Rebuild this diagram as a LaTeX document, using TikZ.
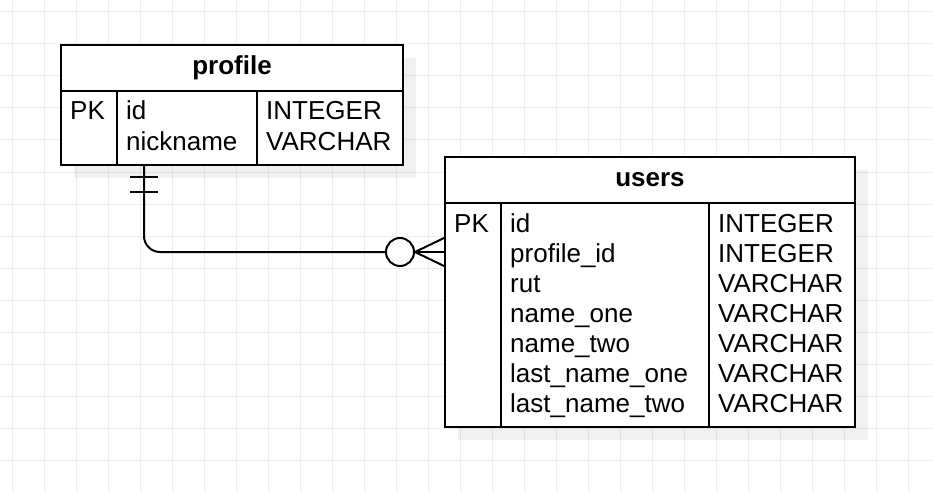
\documentclass[tikz,border=0pt]{standalone}
\usepackage{fontspec}
\setmainfont{Liberation Sans}
\usepackage{tikz}
\usetikzlibrary{positioning, calc}
\usepackage{xcolor}

\tikzset{
  cell/.style={draw=black, line width=2pt, fill=white, inner sep=0pt, anchor=north west},
  tshadow/.style={fill=black, opacity=0.055, draw=none},
  field/.style={font=\fontsize{26}{30}\selectfont, inner sep=0pt, anchor=base west},
  title/.style={font=\fontsize{26}{30}\selectfont\bfseries, inner sep=0pt},
  link/.style={line width=2pt, draw=black},
  gridline/.style={draw=black!7, line width=1pt}
}

\begin{document}
\begin{tikzpicture}[x=1pt, y=-1pt]

  \useasboundingbox (0,0) rectangle (934,492);
  \fill[white] (0,0) rectangle (934,492);

  % Grid
  \foreach \g in {12,44,...,908}{
    \draw[gridline] (\g,0) -- (\g,492);
  }
  \foreach \g in {12,44,...,460}{
    \draw[gridline] (0,\g) -- (934,\g);
  }

  % Shadows
  \fill[tshadow] (74,58) rectangle (416,178);
  \fill[tshadow] (458,170) rectangle (868,440);

  % Table profile
  \node[cell, minimum width=342, minimum height=46] (profile-head) at (60,44) {};
  \node[title] (profile-title) at (profile-head.center) {profile};
  \node[cell, minimum width=56, minimum height=74] (profile-pk) at (60,90) {};
  \node[cell, minimum width=140, minimum height=74] (profile-fields) at (116,90) {};
  \node[cell, minimum width=146, minimum height=74] (profile-types) at (256,90) {};

  \node[field] (profile-key) at (70,120) {PK};
  \foreach \i/\y/\lbl/\typ in {1/120/id/INTEGER, 2/150/nickname/VARCHAR}{
    \node[field] (profile-f\i) at (126,\y) {\lbl};
    \node[field] (profile-t\i) at (266,\y) {\typ};
  }

  % Table users
  \node[cell, minimum width=410, minimum height=46] (users-head) at (444,156) {};
  \node[title] (users-title) at (users-head.center) {users};
  \node[cell, minimum width=56, minimum height=224] (users-pk) at (444,202) {};
  \node[cell, minimum width=208, minimum height=224] (users-fields) at (500,202) {};
  \node[cell, minimum width=146, minimum height=224] (users-types) at (708,202) {};

  \node[field] (users-key) at (454,232) {PK};
  \foreach \i/\lbl/\typ in {
    0/id/INTEGER,
    1/profile\_id/INTEGER,
    2/rut/VARCHAR,
    3/name\_one/VARCHAR,
    4/name\_two/VARCHAR,
    5/last\_name\_one/VARCHAR,
    6/last\_name\_two/VARCHAR
  }{
    \node[field] (users-f\i) at (510,{232+30*\i}) {\lbl};
    \node[field] (users-t\i) at (718,{232+30*\i}) {\typ};
  }

  % Relation: one profile -- zero or many users
  \coordinate (one) at (144,164);
  \coordinate (many) at (444,252);
  \node[circle, draw=black, line width=2pt, fill=white, minimum size=28, inner sep=0pt] (zero) at (400,252) {};
  \draw[link, rounded corners=16] (one) |- (zero.west);
  \draw[link] ($(one)+(-14,13)$) -- ($(one)+(14,13)$);
  \draw[link] ($(one)+(-14,28)$) -- ($(one)+(14,28)$);
  \draw[link] (zero.east) -- (many);
  \draw[link] ($(many)+(0,-14)$) -- (zero.east) -- ($(many)+(0,14)$);

\end{tikzpicture}
\end{document}
